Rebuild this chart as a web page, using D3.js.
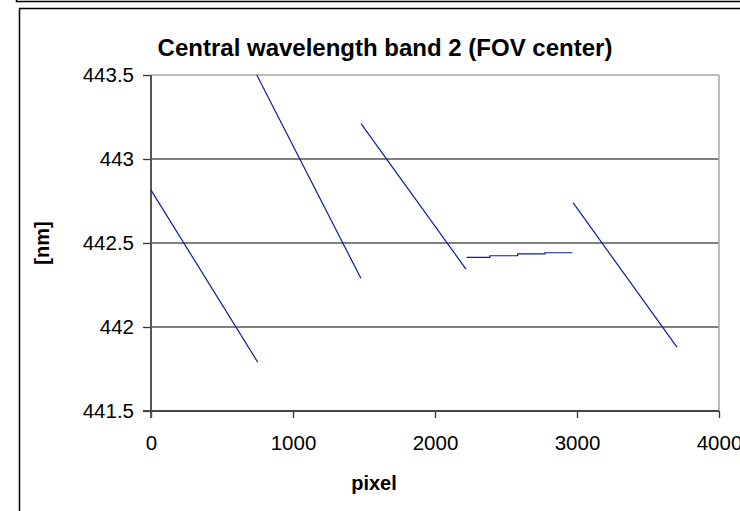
<!DOCTYPE html>
<html>
<head>
<meta charset="utf-8">
<script src="https://cdn.jsdelivr.net/npm/d3@7"></script>
<style>
  body { margin: 0; background: #fff; }
  svg { display: block; font-family: "Liberation Sans", Arial, sans-serif; }
</style>
</head>
<body>
<script>
// tick values
var xTicks = [0, 1000, 2000, 3000, 4000];
var yTicks = [441.5, 442, 442.5, 443, 443.5];

// segments, [pixel, nm]
var seg1 = [[0, 442.815], [752, 441.79]];
var seg2 = [[745, 443.5], [1478, 442.29]];
var seg3 = [[1479, 443.21], [2218, 442.345]];
var seg4 = [[2222, 442.415], [2387, 442.424], [2582, 442.435], [2775, 442.442], [2967, 442.442]];
var seg5 = [[2972, 442.74], [3704, 441.88]];
var segments = [seg1, seg2, seg3, seg5];

var W = 740, H = 511;
var plotL = 151, plotR = 719, plotT = 75, plotB = 411;

var svg = d3.select("body").append("svg")
    .attr("width", W)
    .attr("height", H);

// frame of the chart above (cut off) and this chart's frame
svg.append("rect").attr("x", 16.5).attr("y", -20).attr("width", 800).attr("height", 21.5)
    .attr("fill", "none").attr("stroke", "#000").attr("stroke-width", 1.5);
svg.append("rect").attr("x", 19.5).attr("y", 8.5).attr("width", 800).attr("height", 600)
    .attr("fill", "none").attr("stroke", "#000").attr("stroke-width", 1.5);

var x = d3.scaleLinear().domain([0, 4000]).range([plotL, plotR]);
var y = d3.scaleLinear().domain([441.5, 443.5]).range([plotB, plotT]);

// gridlines
svg.append("g").selectAll("line")
    .data(yTicks.filter(function(d){ return d > 441.5 && d < 443.5; }))
    .enter().append("line")
    .attr("x1", plotL).attr("x2", plotR)
    .attr("y1", function(d){ return y(d); }).attr("y2", function(d){ return y(d); })
    .attr("stroke", "#000").attr("stroke-width", 1);

// plot border top / right (gray)
svg.append("line").attr("x1", plotL).attr("x2", plotR).attr("y1", plotT).attr("y2", plotT)
    .attr("stroke", "#a6a6a6").attr("stroke-width", 1.5);
svg.append("line").attr("x1", plotR).attr("x2", plotR).attr("y1", plotT).attr("y2", plotB)
    .attr("stroke", "#a6a6a6").attr("stroke-width", 1.5);

// axes
var yAxis = d3.axisLeft(y).tickValues(yTicks).tickSize(8).tickPadding(9)
    .tickFormat(function(d){ return String(d); });
var xAxis = d3.axisBottom(x).tickValues(xTicks).tickSize(7).tickPadding(17)
    .tickFormat(function(d){ return String(d); });

var gy = svg.append("g").attr("transform", "translate(" + plotL + ",0)").call(yAxis);
var gx = svg.append("g").attr("transform", "translate(0," + plotB + ")").call(xAxis);

[gx, gy].forEach(function(g){
  g.select(".domain").remove();
  g.selectAll(".tick line").attr("stroke", "#333").attr("stroke-width", 1.3);
  g.selectAll(".tick text").attr("fill", "#000").attr("font-size", 20.5)
    .attr("font-family", "Liberation Sans, Arial, sans-serif");
});
// axis lines
svg.append("line").attr("x1", plotL).attr("x2", plotL).attr("y1", plotT).attr("y2", plotB + 7)
    .attr("stroke", "#555").attr("stroke-width", 2);
svg.append("line").attr("x1", plotL - 8).attr("x2", plotR).attr("y1", plotB).attr("y2", plotB)
    .attr("stroke", "#444").attr("stroke-width", 2);

// series
var line = d3.line()
    .x(function(d){ return x(d[0]); })
    .y(function(d){ return y(d[1]); });

svg.append("g").selectAll("path")
    .data(segments)
    .enter().append("path")
    .attr("d", line)
    .attr("fill", "none")
    .attr("stroke", "#0a1e96")
    .attr("stroke-width", 1.2);

svg.append("path")
    .attr("d", line.curve(d3.curveStepAfter)(seg4))
    .attr("fill", "none")
    .attr("stroke", "#0a1e96")
    .attr("stroke-width", 1.2);

// titles
svg.append("text").attr("x", 385).attr("y", 56)
    .attr("text-anchor", "middle").attr("font-size", 24).attr("font-weight", "bold")
    .text("Central wavelength band 2 (FOV center)");
svg.append("text").attr("x", 374).attr("y", 490)
    .attr("text-anchor", "middle").attr("font-size", 20).attr("font-weight", "bold")
    .text("pixel");
svg.append("text").attr("transform", "translate(49,243) rotate(-90)")
    .attr("text-anchor", "middle").attr("font-size", 20).attr("font-weight", "bold")
    .text("[nm]");
</script>
</body>
</html>
